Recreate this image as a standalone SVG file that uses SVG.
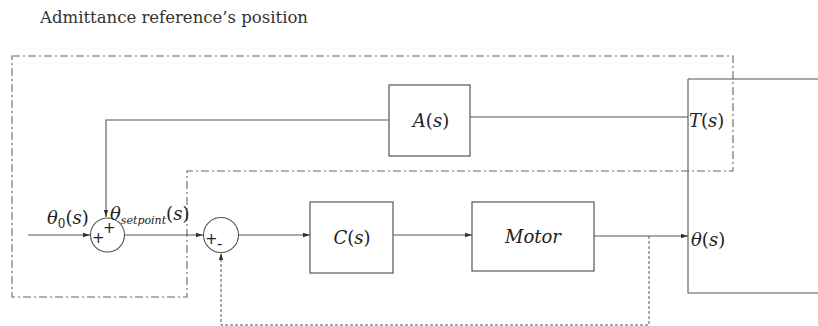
<svg xmlns="http://www.w3.org/2000/svg" width="818" height="326" viewBox="0 0 818 326">
<defs>
<marker id="arr" markerWidth="8" markerHeight="6" refX="7" refY="3" orient="auto" markerUnits="userSpaceOnUse">
<path d="M0,0.8 L7,3 L0,5.2 z" fill="#333"/>
</marker>
<style>
.box{fill:#fff;stroke:#555;stroke-width:1.2}
.ln{fill:none;stroke:#555;stroke-width:1.1}
.dd{fill:none;stroke:#666;stroke-width:1.1;stroke-dasharray:8,3,2,3}
.ds{fill:none;stroke:#555;stroke-width:1;stroke-dasharray:3,2}
.m{font-family:'DejaVu Serif','Liberation Serif',serif;font-style:italic;font-size:18px;fill:#222}
.t{font-family:'DejaVu Serif','Liberation Serif',serif;font-size:16px;fill:#333}
.pm{font-family:'DejaVu Sans',sans-serif;font-size:15px;fill:#222}
</style>
</defs>
<rect width="818" height="326" fill="#fff"/>
<text class="t" x="40" y="23" textLength="268" lengthAdjust="spacingAndGlyphs">Admittance reference’s position</text>
<g id="connectors">
<path class="dd" d="M12,56 H733 V171 H187 V297 H12 Z"/>
<path class="ln" d="M688,79 H818 M688,79 V293 H818"/>
<line class="ln" x1="28" y1="235" x2="90" y2="235" marker-end="url(#arr)"/>
<line class="ln" x1="125" y1="235" x2="203" y2="235" marker-end="url(#arr)"/>
<line class="ln" x1="238" y1="235" x2="310" y2="235" marker-end="url(#arr)"/>
<line class="ln" x1="393" y1="235" x2="472" y2="235" marker-end="url(#arr)"/>
<line class="ln" x1="594" y1="236" x2="688" y2="236" marker-end="url(#arr)"/>
<path class="ln" d="M389,120 H106 V217" marker-end="url(#arr)"/>
<line class="ln" x1="470" y1="117" x2="688" y2="117"/>
<path class="ds" d="M649,236 V325 H221 V253" marker-end="url(#arr)"/>
</g>
<g id="sum1">
<circle cx="107.5" cy="235" r="17" fill="none" stroke="#555" stroke-width="1.1"/>
<text class="pm" x="92" y="243">+</text>
<text class="pm" x="103" y="233">+</text>
</g>
<g id="sum2">
<circle cx="221" cy="235" r="17.5" fill="none" stroke="#555" stroke-width="1.1"/>
<text class="pm" x="205" y="244">+</text>
<text class="pm" x="217" y="249">-</text>
</g>
<g id="A">
<rect class="box" x="389" y="85" width="81" height="71"/>
<text class="m" x="431" y="127" text-anchor="middle">A<tspan font-style="normal">(</tspan>s<tspan font-style="normal">)</tspan></text>
</g>
<g id="C">
<rect class="box" x="310" y="202" width="83" height="71"/>
<text class="m" x="352" y="244" text-anchor="middle">C<tspan font-style="normal">(</tspan>s<tspan font-style="normal">)</tspan></text>
</g>
<g id="Motor">
<rect class="box" x="472" y="202" width="122" height="69"/>
<text class="m" x="533" y="243" text-anchor="middle">Motor</text>
</g>
<g id="labels">
<text class="m" x="47" y="224">θ<tspan font-style="normal" font-size="12" dy="4">0</tspan><tspan font-style="normal" dy="-4">(</tspan>s<tspan font-style="normal">)</tspan></text>
<text class="m" x="110" y="220">θ<tspan font-size="11" dy="4">setpoint</tspan><tspan font-style="normal" dy="-4">(</tspan>s<tspan font-style="normal">)</tspan></text>
<text class="m" x="689" y="127">T<tspan font-style="normal">(</tspan>s<tspan font-style="normal">)</tspan></text>
<text class="m" x="691" y="246">θ<tspan font-style="normal">(</tspan>s<tspan font-style="normal">)</tspan></text>
</g>
</svg>
